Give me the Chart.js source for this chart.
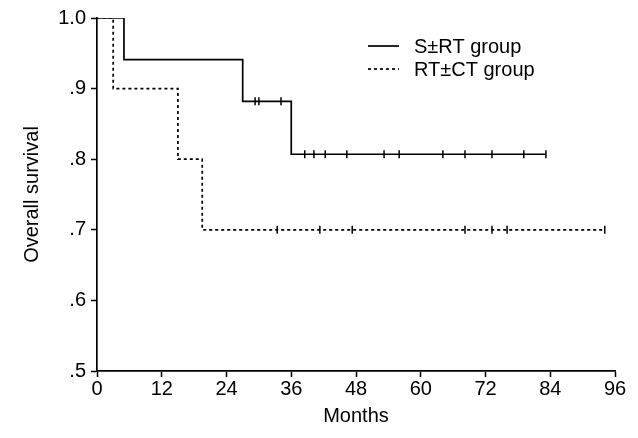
<!DOCTYPE html>
<html>
<head>
<meta charset="utf-8">
<script src="https://cdn.jsdelivr.net/npm/chart.js@4.4.1/dist/chart.umd.min.js"></script>
<style>
	body { margin: 0; background: #fff; }
	canvas { display: block; }
</style>
</head>
<body>
<canvas id="kmChart" width="638" height="438"></canvas>
<script>
// months of each step and survival after it
var srtTimes = [0, 5, 27, 36, 83.2];
var srtSurv = [1.0, 0.941, 0.882, 0.807, 0.807];
var srtCensorTimes = [29.3, 30.0, 34.1, 38.5, 40.2, 42.3, 46.3, 53.2, 56.0, 64.1, 68.2, 73.2, 79.1, 83.2];
var srtCensorSurv = [0.882, 0.882, 0.882, 0.807, 0.807, 0.807, 0.807, 0.807, 0.807, 0.807, 0.807, 0.807, 0.807, 0.807];

var rtTimes = [0, 3, 15, 19.5, 94.1];
var rtSurv = [1.0, 0.9, 0.8, 0.7, 0.7];
var rtCensorTimes = [33.4, 41.3, 47.3, 68.2, 73.2, 76.0, 94.1];
var rtCensorSurv = [0.7, 0.7, 0.7, 0.7, 0.7, 0.7, 0.7];

var seriesLabels = ['S\u00b1RT group', 'RT\u00b1CT group'];
var xTicks = [0, 12, 24, 36, 48, 60, 72, 84, 96];
var yTickLabels = { '0.5': '.5', '0.6': '.6', '0.7': '.7', '0.8': '.8', '0.9': '.9', '1': '1.0' };

var FONT = 'Liberation Sans, Arial, sans-serif';
var FS = 20;

function toPoints(xs, ys) {
	return xs.map(function(x, i) { return { x: x, y: ys[i] }; });
}

// legend drawn inside the plot, like the original figure
var insideLegend = {
	id: 'insideLegend',
	afterDraw: function(chart) {
		var ctx = chart.ctx;
		ctx.save();
		ctx.font = FS + 'px ' + FONT;
		ctx.textBaseline = 'middle';
		ctx.fillStyle = '#000';
		[0, 1].forEach(function(i) {
			var ds = chart.data.datasets[i];
			var y = 46 + i * 23;
			ctx.beginPath();
			ctx.lineWidth = ds.borderWidth;
			ctx.strokeStyle = '#000';
			ctx.setLineDash(ds.borderDash || []);
			ctx.moveTo(368, y);
			ctx.lineTo(399, y);
			ctx.stroke();
			ctx.setLineDash([]);
			ctx.fillText(ds.label, 414, y + 1);
		});
		ctx.restore();
	}
};

var ctx = document.getElementById('kmChart').getContext('2d');

new Chart(ctx, {
	type: 'line',
	data: {
		datasets: [{
			label: seriesLabels[0],
			data: toPoints(srtTimes, srtSurv),
			stepped: 'before',
			borderColor: '#000',
			borderWidth: 1.7,
			pointRadius: 0,
			fill: false
		}, {
			label: seriesLabels[1],
			data: toPoints(rtTimes, rtSurv),
			stepped: 'before',
			borderColor: '#000',
			borderWidth: 1.7,
			borderDash: [3, 3],
			pointRadius: 0,
			fill: false
		}, {
			label: 'censor1',
			data: toPoints(srtCensorTimes, srtCensorSurv),
			showLine: false,
			pointStyle: 'line',
			rotation: 90,
			pointRadius: 4,
			pointBorderWidth: 1.5,
			borderColor: '#000'
		}, {
			label: 'censor2',
			data: toPoints(rtCensorTimes, rtCensorSurv),
			showLine: false,
			pointStyle: 'line',
			rotation: 90,
			pointRadius: 4,
			pointBorderWidth: 1.5,
			borderColor: '#000'
		}]
	},
	options: {
		responsive: false,
		animation: false,
		layout: { padding: { top: 18, right: 23, left: 0, bottom: 0 } },
		plugins: {
			legend: { display: false },
			tooltip: { enabled: false }
		},
		scales: {
			x: {
				type: 'linear',
				min: 0,
				max: 96,
				afterFit: function(scale) { scale.height = 67; },
				afterBuildTicks: function(scale) {
					scale.ticks = xTicks.map(function(v) { return { value: v }; });
				},
				grid: { drawOnChartArea: false, drawTicks: true, tickLength: 6, tickColor: '#000', tickWidth: 1.5 },
				border: { display: true, color: '#000', width: 1.7 },
				ticks: { color: '#000', padding: 0, maxRotation: 0, font: { family: FONT, size: FS } },
				title: { display: true, text: 'Months', color: '#000', font: { family: FONT, size: FS }, padding: { top: 0, bottom: 10 } }
			},
			y: {
				min: 0.5,
				max: 1.0,
				afterFit: function(scale) { scale.width = 97; },
				ticks: {
					stepSize: 0.1,
					color: '#000',
					padding: 5,
					font: { family: FONT, size: FS },
					callback: function(v) {
						var key = String(Math.round(v * 10) / 10);
						return yTickLabels[key] || '';
					}
				},
				grid: { drawOnChartArea: false, drawTicks: true, tickLength: 6, tickColor: '#000', tickWidth: 1.5 },
				border: { display: true, color: '#000', width: 1.7 },
				title: { display: true, text: 'Overall survival', color: '#000', font: { family: FONT, size: FS }, padding: { top: 20, bottom: 0 } }
			}
		}
	},
	plugins: [insideLegend]
});
</script>
</body>
</html>
